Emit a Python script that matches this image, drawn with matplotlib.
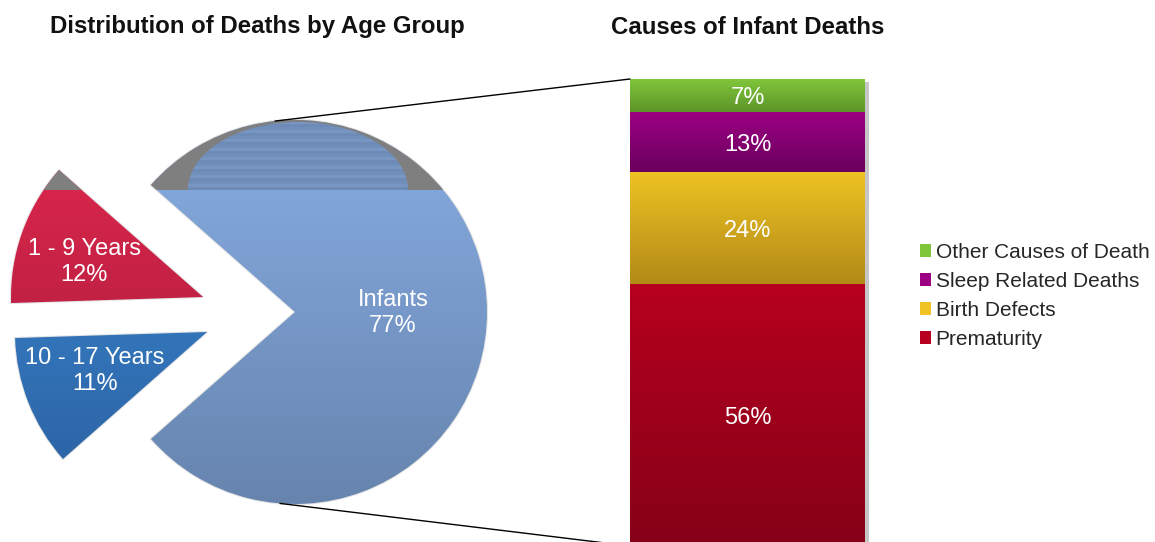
import numpy as np
import matplotlib
matplotlib.use('Agg')
import matplotlib.pyplot as plt
from matplotlib.colors import LinearSegmentedColormap
from matplotlib.patches import Rectangle, Polygon, Patch, ConnectionPatch

plt.rcParams['font.family'] = ['Liberation Sans', 'DejaVu Sans']

# deaths split by age group
age_groups = ['Infants', '1 - 9 Years', '10 - 17 Years']
age_share = [77, 12, 11]
age_top = ['#88ADE3', '#E5284F', '#3C8BD5']
age_bottom = ['#6684AE', '#A01B3A', '#2A5E9E']

# causes of infant deaths, stacked from the bottom up
causes = ['Prematurity', 'Birth Defects', 'Sleep Related Deaths', 'Other Causes of Death']
cause_share = [56, 24, 13, 7]
cause_top = ['#B6001F', '#EEC323', '#9C0083', '#80C63B']
cause_bottom = ['#850017', '#B28A18', '#6A005D', '#5C9428']

W, H = 1155, 542
fig = plt.figure(figsize=(W / 100, H / 100), dpi=100)
ax = fig.add_axes([0, 0, 1, 1])


def gradient(axis, clip, top, bottom, extent, z):
    cmap = LinearSegmentedColormap.from_list('grad', [bottom, top])
    im = axis.imshow(np.linspace(0, 1, 256).reshape(-1, 1), cmap=cmap, origin='lower',
                     extent=extent, aspect='auto', zorder=z, interpolation='bilinear')
    im.set_clip_path(clip)
    return im


# pie: infants slice centred on the right, the two older groups pulled out to the left
cx, cy, r = 295, 230, 192
start = -age_share[0] / 100 * 360 / 2
wedges, _ = ax.pie(age_share, radius=r, center=(cx, cy), startangle=start,
                   counterclock=True, frame=True, colors=age_bottom,
                   wedgeprops=dict(edgecolor='#e4e4e4', linewidth=1.5))
offsets = [(0, 0), (-92, 15), (-88, -20)]
for w, (dx, dy), top, bot in zip(wedges, offsets, age_top, age_bottom):
    w.set_center((cx + dx, cy + dy))
    w.set_zorder(1)
    gradient(ax, w, top, bot, (cx + dx - r, cx + dx + r, cy + dy - r, cy + dy + r), 2)
    band = Rectangle((0, 352), 620, 200, facecolor='#7F7F7F', edgecolor='none', zorder=3)
    ax.add_patch(band)
    band.set_clip_path(w)

# striped blue cap over the grey top band
t = np.linspace(0, np.pi, 100)
cap = Polygon(np.column_stack([298 + 110 * np.cos(t), 352 + 68 * np.sin(t)]),
              facecolor='none', edgecolor='none', zorder=4)
ax.add_patch(cap)
stripes = np.tile([0.0, 1.0, 0.45], 8).reshape(-1, 1)
stripe_map = LinearSegmentedColormap.from_list('stripe', ['#6D8BB6', '#7896C2'])
sim = ax.imshow(stripes, cmap=stripe_map, origin='lower', extent=(180, 420, 352, 424),
                aspect='auto', zorder=4, interpolation='nearest')
sim.set_clip_path(cap)

label_pos = [(393, 229), (84, 280), (95, 171)]
for name, share, (lx, ly) in zip(age_groups, age_share, label_pos):
    ax.text(lx, ly, f'{name}\n{share}%', color='white', fontsize=17,
            ha='center', va='center', linespacing=1.2, zorder=6)

ax.set_xlim(0, W)
ax.set_ylim(0, H)
ax.set_aspect('auto')
ax.axis('off')

# stacked bar for the infant causes
total = sum(cause_share)
bax = fig.add_axes([630 / W, -4 / H, 235 / W, 467 / H])
bottoms = np.cumsum([0] + cause_share[:-1])
bars = bax.bar(0, cause_share, bottom=bottoms, width=1, color=cause_bottom, zorder=1)
for b, v, y0, top, bot in zip(bars, cause_share, bottoms, cause_top, cause_bottom):
    gradient(bax, b, top, bot, (-0.5, 0.5, y0, y0 + v), 2)
    bax.text(0, y0 + v / 2, f'{v}%', color='white', fontsize=17,
             ha='center', va='center_baseline', zorder=5)
bax.set_xlim(-0.5, 0.5)
bax.set_ylim(0, total)
bax.axis('off')

ax.add_patch(Rectangle((865, -4), 4, 464, facecolor='#c6c6c6', edgecolor='none', zorder=0))

# connector lines from the infants slice to the bar
for ang, yb in [(96, total), (-94.5, 0)]:
    a = np.radians(ang)
    con = ConnectionPatch(xyA=(cx + r * np.cos(a), cy + r * np.sin(a)), coordsA=ax.transData,
                          xyB=(-0.5, yb), coordsB=bax.transData, color='black', lw=1)
    fig.add_artist(con)

handles = [Patch(facecolor=c, edgecolor='none') for c in cause_top[::-1]]
leg = fig.legend(handles, causes[::-1], loc='upper left', bbox_to_anchor=(920 / W, 1 - 243 / H),
                 frameon=False, fontsize=15, handlelength=0.55, handleheight=0.55,
                 handletextpad=0.2, labelspacing=0.48, borderaxespad=0, borderpad=0)
for txt in leg.get_texts():
    txt.set_color('#262626')

fig.text(257 / W, 1 - 27 / H, 'Distribution of Deaths by Age Group', fontsize=17.3,
         fontweight='bold', color='#111111', ha='center', va='center')
fig.text(748 / W, 1 - 27 / H, 'Causes of Infant Deaths', fontsize=17.3,
         fontweight='bold', color='#111111', ha='center', va='center')

fig.savefig('out.png', dpi=100)
